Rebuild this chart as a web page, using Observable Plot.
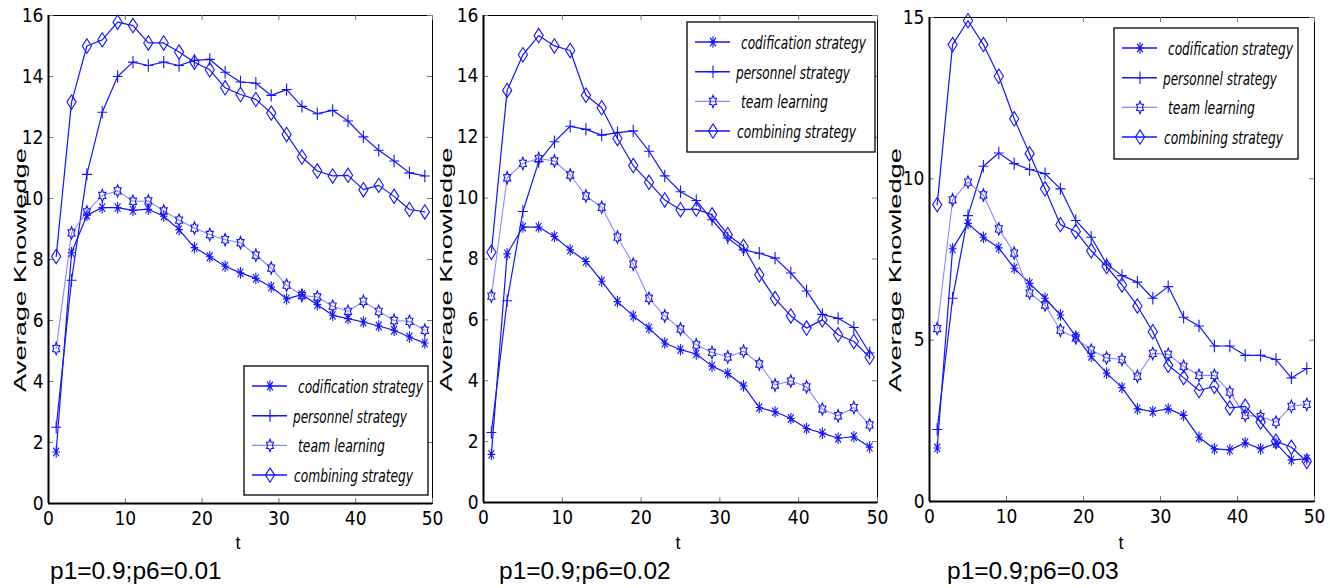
<!DOCTYPE html>
<html>
<head>
<meta charset="utf-8">
<script src="https://cdn.jsdelivr.net/npm/d3@7"></script>
<script src="https://cdn.jsdelivr.net/npm/@observablehq/plot@0.6"></script>
<style>
  html, body { margin: 0; padding: 0; background: #fff; }
  #root { position: relative; width: 1330px; height: 588px; overflow: hidden; background: #fff; }
  .panel { position: absolute; top: 0; }
  #overlay { position: absolute; left: 0; top: 0; }
</style>
</head>
<body>
<div id="root"></div>
<script>
// ---------- data ----------
const t = [1,3,5,7,9,11,13,15,17,19,21,23,25,27,29,31,33,35,37,39,41,43,45,47,49];
const seriesNames = ["codification strategy", "personnel strategy", "team learning", "combining strategy"];
const captions = ["p1=0.9;p6=0.01", "p1=0.9;p6=0.02", "p1=0.9;p6=0.03"];
const xTicks = [0,10,20,30,40,50];
const yTicksA = [0,2,4,6,8,10,12,14,16];
const yTicksB = [0,5,10,15];

const codif1 = [1.69,8.22,9.45,9.7,9.7,9.61,9.65,9.42,8.98,8.39,8.09,7.78,7.56,7.38,7.1,6.71,6.85,6.52,6.17,6.06,5.95,5.82,5.68,5.46,5.26];
const pers1  = [2.5,7.32,10.79,12.83,14.0,14.47,14.36,14.47,14.36,14.53,14.56,14.14,13.82,13.78,13.38,13.57,13.02,12.78,12.89,12.54,12.02,11.58,11.23,10.84,10.74];
const team1  = [5.08,8.87,9.56,10.1,10.25,9.91,9.92,9.59,9.29,9.03,8.82,8.65,8.55,8.14,7.72,7.16,6.82,6.77,6.47,6.3,6.63,6.3,6.0,5.97,5.68];
const comb1  = [8.1,13.16,15.0,15.2,15.78,15.67,15.1,15.1,14.8,14.47,14.22,13.63,13.41,13.25,12.8,12.1,11.36,10.9,10.74,10.76,10.29,10.43,10.07,9.64,9.56];

const codif2 = [1.58,8.17,9.05,9.05,8.74,8.3,7.92,7.27,6.6,6.13,5.73,5.24,5.02,4.88,4.48,4.24,3.83,3.12,2.98,2.76,2.43,2.28,2.11,2.16,1.82];
const pers2  = [2.3,6.63,9.56,11.2,11.85,12.36,12.26,12.07,12.15,12.21,11.54,10.73,10.21,9.92,9.29,8.69,8.3,8.19,8.03,7.54,6.95,6.18,6.05,5.75,4.91];
const team2  = [6.78,10.67,11.14,11.3,11.22,10.76,10.07,9.7,8.72,7.83,6.71,6.13,5.7,5.18,4.93,4.78,4.97,4.55,3.86,3.99,3.8,3.07,2.85,3.12,2.55];
const comb2  = [8.22,13.54,14.71,15.34,15.0,14.85,13.38,12.97,11.96,11.07,10.52,9.94,9.62,9.64,9.45,8.8,8.41,7.48,6.7,6.13,5.73,6.0,5.51,5.29,4.77];

const codif3 = [1.66,7.83,8.62,8.19,7.86,7.23,6.76,6.3,5.78,5.12,4.5,3.98,3.53,2.87,2.79,2.87,2.67,1.99,1.63,1.6,1.82,1.63,1.8,1.29,1.32];
const pers3  = [2.23,6.3,8.86,10.39,10.8,10.47,10.29,10.16,9.69,8.71,8.19,7.36,7.0,6.8,6.3,6.66,5.71,5.44,4.82,4.82,4.53,4.53,4.4,3.83,4.12];
const team3  = [5.36,9.35,9.9,9.5,8.45,7.7,6.46,6.09,5.31,5.07,4.69,4.45,4.4,3.88,4.59,4.56,4.19,3.91,3.91,3.39,2.67,2.63,2.46,2.95,3.01];
const comb3  = [9.2,14.16,14.9,14.16,13.18,11.86,10.78,9.69,8.58,8.37,7.77,7.28,6.71,6.06,5.26,4.22,3.84,3.44,3.57,2.9,2.95,2.46,1.87,1.68,1.24];

// ---------- styles / symbols ----------
const BLUE = "#1414ff";
const LIGHT = "#8a8aff";
const NARROW = "'Liberation Sans Narrow', 'DejaVu Sans Condensed', 'Liberation Sans', sans-serif";
const SANS = "'Liberation Sans', Arial, sans-serif";
const SX = 0.66; // markers are taller than wide
const TICK = 5;

const symAsterisk = { draw(c, size) { const r = Math.sqrt(size / Math.PI), a = r * 0.75;
  c.moveTo(0, -r); c.lineTo(0, r); c.moveTo(-r * SX, 0); c.lineTo(r * SX, 0);
  c.moveTo(-a * SX, -a); c.lineTo(a * SX, a); c.moveTo(-a * SX, a); c.lineTo(a * SX, -a); } };
const symPlus = { draw(c, size) { const r = Math.sqrt(size / Math.PI);
  c.moveTo(0, -r); c.lineTo(0, r); c.moveTo(-r * 0.8, 0); c.lineTo(r * 0.8, 0); } };
const symHex = { draw(c, size) { const r = Math.sqrt(size / Math.PI);
  for (let k = 0; k < 12; k++) { const ang = -Math.PI / 2 + k * Math.PI / 6; const rad = k % 2 ? r * 0.58 : r;
    const x = Math.cos(ang) * rad * SX, y = Math.sin(ang) * rad; if (k) c.lineTo(x, y); else c.moveTo(x, y); }
  c.closePath(); } };
const symDiamond = { draw(c, size) { const r = Math.sqrt(size / Math.PI);
  c.moveTo(0, -r); c.lineTo(r * 0.64, 0); c.lineTo(0, r); c.lineTo(-r * 0.64, 0); c.closePath(); } };

const seriesStyle = [
  { sym: symAsterisk, r: 5.8, line: BLUE, lw: 1.2 },
  { sym: symPlus, r: 6.2, line: BLUE, lw: 1.2 },
  { sym: symHex, r: 6.2, line: LIGHT, lw: 1.1 },
  { sym: symDiamond, r: 7.2, line: BLUE, lw: 1.2 }
];

const panels = [
  { vals: [codif1, pers1, team1, comb1], left: 0, width: 440, ml: 48, mr: 8, mt: 15, mb: 85, yMax: 16, yTicks: yTicksA,
    legend: { x: 244, y: 366, w: 184, h: 129 }, ylabX: 26, tX: 238, capX: 50 },
  { vals: [codif2, pers2, team2, comb2], left: 440, width: 440, ml: 43, mr: 3, mt: 15, mb: 86, yMax: 16, yTicks: yTicksA,
    legend: { x: 687, y: 22, w: 188, h: 130 }, ylabX: 452, tX: 678, capX: 499 },
  { vals: [codif3, pers3, team3, comb3], left: 880, width: 450, ml: 49, mr: 16, mt: 17, mb: 87, yMax: 15, yTicks: yTicksB,
    legend: { x: 1114, y: 28, w: 184, h: 131 }, ylabX: 901, tX: 1121, capX: 947 }
];

const root = document.getElementById("root");

panels.forEach((p) => {
  const fw = p.width - p.ml - p.mr;       // frame width in px
  const fh = 588 - p.mt - p.mb;           // frame height in px
  const rows = seriesNames.map((name, si) => t.map((tt, i) => ({ t: tt, v: p.vals[si][i], s: name })));
  const marks = [
    Plot.frame({ stroke: "#000", strokeWidth: 1 }),
    // inward ticks on all four sides (MATLAB box style)
    Plot.tickX(xTicks, { x: d => d, insetTop: fh - TICK, stroke: "#777" }),
    Plot.tickX(xTicks, { x: d => d, insetBottom: fh - TICK, stroke: "#777" }),
    Plot.tickY(p.yTicks, { y: d => d, insetRight: fw - TICK, stroke: "#777" }),
    Plot.tickY(p.yTicks, { y: d => d, insetLeft: fw - TICK, stroke: "#777" })
  ];
  rows.forEach((data, si) => {
    const st = seriesStyle[si];
    marks.push(Plot.line(data, { x: "t", y: "v", stroke: st.line, strokeWidth: st.lw }));
  });
  rows.forEach((data, si) => {
    const st = seriesStyle[si];
    marks.push(Plot.dot(data, { x: "t", y: "v", symbol: st.sym, r: st.r, stroke: BLUE, fill: "none", strokeWidth: 1.1 }));
  });
  marks.push(
    Plot.ruleX([0], { stroke: "#000", strokeWidth: 2 }),
    Plot.ruleY([0], { stroke: "#000", strokeWidth: 2 }),
    Plot.axisX(xTicks, { anchor: "bottom", tickSize: 0, tickPadding: 8, label: null, fontSize: 19, fontFamily: NARROW, color: "#000" }),
    Plot.axisY(p.yTicks, { anchor: "left", tickSize: 0, tickPadding: 5, label: null, fontSize: 19, fontFamily: NARROW, color: "#000" })
  );
  const chart = Plot.plot({
    width: p.width, height: 588,
    marginLeft: p.ml, marginRight: p.mr, marginTop: p.mt, marginBottom: p.mb,
    x: { domain: [0, 50], axis: null },
    y: { domain: [0, p.yMax], axis: null },
    style: { background: "transparent", overflow: "visible" },
    marks
  });
  chart.classList.add("panel");
  chart.style.left = p.left + "px";
  root.appendChild(chart);
});

// ---------- overlay: axis titles, captions, legends ----------
const ov = d3.select(root).append("svg").attr("id", "overlay").attr("width", 1330).attr("height", 588);
const legendTextX = [54, 49, 54, 50];
const legendTextLen = [125, 114, 87, 119];

panels.forEach((p, pi) => {
  ov.append("text")
    .attr("transform", `translate(${p.ylabX},${(p.mt + 588 - p.mb) / 2 + 11}) rotate(-90)`)
    .attr("text-anchor", "middle").attr("font-family", SANS).attr("font-size", 17)
    .attr("textLength", 244).attr("lengthAdjust", "spacingAndGlyphs")
    .text("Average Knowledge");
  ov.append("text").attr("x", p.tX).attr("y", 549).attr("text-anchor", "middle")
    .attr("font-family", SANS).attr("font-size", 18).text("t");
  ov.append("text").attr("x", p.capX).attr("y", 579)
    .attr("font-family", SANS).attr("font-size", 24.5).text(captions[pi]);

  const L = p.legend;
  const g = ov.append("g").attr("transform", `translate(${L.x},${L.y})`);
  g.append("rect").attr("x", 0).attr("y", 0).attr("width", L.w).attr("height", L.h)
    .attr("fill", "#fff").attr("stroke", "#000").attr("stroke-width", 1.3);
  seriesNames.forEach((name, si) => {
    const st = seriesStyle[si];
    const yy = 20 + si * 29.7;
    g.append("line").attr("x1", 8).attr("x2", 43).attr("y1", yy).attr("y2", yy)
      .attr("stroke", st.line).attr("stroke-width", st.lw + 0.3);
    g.append("path").attr("transform", `translate(${26},${yy})`)
      .attr("d", d3.symbol(st.sym, Math.PI * st.r * st.r)())
      .attr("fill", "none").attr("stroke", BLUE).attr("stroke-width", 1.1);
    g.append("text").attr("x", legendTextX[si]).attr("y", yy + 7)
      .attr("font-family", NARROW).attr("font-style", "italic").attr("font-size", 17)
      .attr("textLength", legendTextLen[si]).attr("lengthAdjust", "spacingAndGlyphs")
      .text(name);
  });
});
</script>
</body>
</html>
